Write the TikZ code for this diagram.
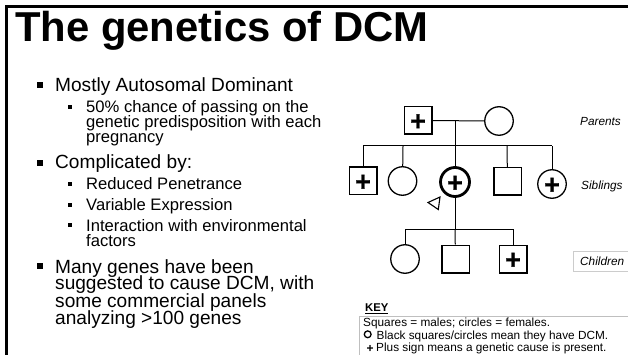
\documentclass[tikz,border=0pt]{standalone}
\usepackage{fontspec}
\setmainfont{Liberation Sans}
\newfontfamily\plusfont[FakeBold=1.2]{Liberation Sans Bold}
\tikzset{
  x=1pt,y=-1pt,
  sq/.style={draw=black,line width=1.5pt,minimum size=27.5pt,inner sep=0pt,fill=white},
  ci/.style={draw=black,line width=1.3pt,circle,minimum size=28.5pt,inner sep=0pt,fill=white},
  lnk/.style={draw=black,line width=1pt},
  pl/.style={font=\plusfont\fontsize{27}{27}\selectfont,inner sep=0pt,yshift=-1.8pt},
  bl/.style={anchor=base west,inner sep=0pt,align=left},
  lab/.style={anchor=base west,inner sep=0pt,font=\fontsize{11.8}{13}\itshape\selectfont},
  keyt/.style={anchor=base west,inner sep=0pt,font=\fontsize{11.8}{13}\selectfont},
  lvla/.style={bl,font=\fontsize{19.1}{20}\selectfont},
  lvlb/.style={bl,font=\fontsize{16.6}{17}\selectfont}
}
\newcommand{\sqb}[2]{\fill[black] (#1-2.7,#2-2.7) rectangle (#1+2.7,#2+2.7);}
\newcommand{\sqc}[2]{\fill[black] (#1-2.2,#2-2.2) rectangle (#1+2.2,#2+2.2);}
\begin{document}
\begin{tikzpicture}
\useasboundingbox (0,0) rectangle (628,355);
\fill[white] (0,0) rectangle (628,355);
\draw[line width=2.6pt] (6.5,355) -- (6.5,6.5) -- (628,6.5);
\node[anchor=base west,inner sep=0pt,font=\fontsize{41.8}{42}\bfseries\selectfont] (title) at (15,42) {The genetics of DCM};
\sqb{40}{85}
\node[lvla] (t1) at (55,92) {Mostly Autosomal Dominant};
\sqc{70}{107}
\node[lvlb] (t1a) at (86,113) {50\% chance of passing on the};
\node[lvlb] (t1b) at (86,128) {genetic predisposition with each};
\node[lvlb] (t1c) at (86,143) {pregnancy};
\sqb{40}{163}
\node[lvla] (t2) at (55,169) {Complicated by:};
\sqc{70}{184}
\node[lvlb] (t2a) at (86,190) {Reduced Penetrance};
\sqc{70}{205}
\node[lvlb] (t2b) at (86,211) {Variable Expression};
\sqc{70}{225}
\node[lvlb] (t2c) at (86,231) {Interaction with environmental};
\node[lvlb] (t2d) at (86,246) {factors};
\sqb{40}{266}
\node[lvla] (t3) at (55,273) {Many genes have been};
\node[lvla] (t3b) at (55,289.5) {suggested to cause DCM, with};
\node[lvla] (t3c) at (55,307) {some commercial panels};
\node[lvla] (t3d) at (55,324) {analyzing >100 genes};
\coordinate (pm) at (455,121);
\coordinate (sl) at (363,146);
\coordinate (sr) at (552,146);
\coordinate (sm) at (455,146);
\coordinate (s2) at (403,146);
\coordinate (s4) at (507,146);
\coordinate (cl) at (405,229);
\coordinate (cr) at (513,229);
\coordinate (cm) at (455,229);
\node[sq] (f) at (418,120.5) {};
\node[ci] (m) at (499,121) {};
\node[sq] (a) at (363,181) {};
\node[ci] (b) at (402.5,181) {};
\node[draw=black,line width=2.8pt,circle,minimum size=29pt,inner sep=0pt,fill=white] (c) at (455,182) {};
\node[sq] (d) at (507.5,181.5) {};
\node[ci] (e) at (552,184) {};
\node[ci] (g) at (405,259) {};
\node[sq] (h) at (455.5,259) {};
\node[sq] (i) at (513,259) {};
\draw[lnk] (f) -- (m);
\draw[lnk] (pm) -- (c);
\draw[lnk] (sl) -- (sr);
\draw[lnk] (sl) -- (a);
\draw[lnk] (s2) -- (b);
\draw[lnk] (s4) -- (d);
\draw[lnk] (sr) -- (e);
\draw[lnk] (c) -- (cm);
\draw[lnk] (cl) -- (cr);
\draw[lnk] (cl) -- (g);
\draw[lnk] (cm) -- (h);
\draw[lnk] (cr) -- (i);
\node[pl] at (f) {+};
\node[pl] at (a) {+};
\node[pl] at (c) {+};
\node[pl] at (e) {+};
\node[pl] at (i) {+};
\draw[line width=1.1pt,fill=white] (428,202.5) -- (440,197) -- (438.3,209.5) -- cycle;
\node[lab] (lp) at (580,125.5) {Parents};
\node[lab] (ls) at (581,190) {Siblings};
\draw[black!20,line width=0.6pt] (628,251.5) -- (573.5,251.5) -- (573.5,271.5) -- (628,271.5);
\node[lab] (lc) at (580,265.5) {Children};
\node[anchor=base west,inner sep=0pt,font=\fontsize{11.3}{13}\bfseries\selectfont] (key) at (365,311.5) {\underline{KEY}};
\draw[black!25,line width=0.6pt] (359.5,355) -- (359.5,316.7) -- (628,316.7);
\node[keyt] (k1) at (363,326.5) {Squares = males; circles = females.};
\node[keyt] (k2) at (376.5,339) {Black squares/circles mean they have DCM.};
\node[keyt] (k3) at (376,351) {Plus sign means a genetic cause is present.};
\draw[line width=1.3pt] (367.7,334.3) circle (3.4);
\node[inner sep=0pt,font=\fontsize{12}{12}\bfseries\selectfont] at (370,348.5) {+};
\end{tikzpicture}
\end{document}
